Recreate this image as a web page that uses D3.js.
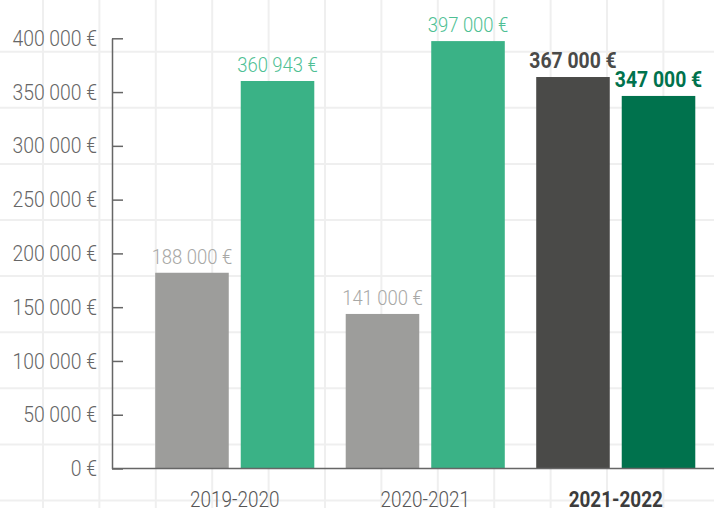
<!DOCTYPE html>
<html>
<head>
<meta charset="utf-8">
<script src="https://cdn.jsdelivr.net/npm/d3@7"></script>
<style>
  html, body { margin: 0; padding: 0; background: #ffffff; }
  svg { display: block; }
  text { font-family: Roboto, "Noto Sans", "DejaVu Sans", sans-serif; }
</style>
</head>
<body>
<div id="chart"></div>
<script>
// ---- data ----
const categories = ["2019-2020", "2020-2021", "2021-2022"];
const series = ["budget", "realise"];
const budgetValues = [182000, 143700, 364000];
const realiseValues = [360300, 397400, 346400];
const budgetLabels = ["188 000 €", "141 000 €", "367 000 €"];
const realiseLabels = ["360 943 €", "397 000 €", "347 000 €"];
const yTicks = [0, 50000, 100000, 150000, 200000, 250000, 300000, 350000, 400000];
const highlightCategory = "2021-2022";

// ---- layout ----
const W = 714, H = 508;
const plotLeft = 112, plotRight = 714, plotTop = 38.3, plotBottom = 468.5;

const svg = d3.select("#chart").append("svg").attr("width", W).attr("height", H);

// background grid
const grid = svg.append("g").attr("stroke", "#efefef").attr("stroke-width", 2);
grid.selectAll("line.v").data(d3.range(43, W, 56.4)).join("line")
  .attr("x1", d => d).attr("x2", d => d).attr("y1", 0).attr("y2", H);
grid.selectAll("line.h").data(d3.range(51.7 - 56.1, H, 56.1)).join("line")
  .attr("x1", 0).attr("x2", W).attr("y1", d => d).attr("y2", d => d);

// scales
const y = d3.scaleLinear().domain([0, 400000]).range([plotBottom, plotTop]);
const x0 = d3.scaleBand().domain(categories).range([139.5, 711]).paddingInner(0.165).paddingOuter(0.0825);
const x1 = d3.scaleBand().domain(series).range([0, x0.bandwidth()]).paddingInner(0.14).paddingOuter(0);

const fmt = v => d3.format(",")(v).replace(/,/g, " ") + " €";

function condense(sx) {
  return sel => sel.each(function () {
    const t = d3.select(this);
    const x = +(t.attr("x") || 0);
    t.attr("x", x / sx).attr("transform", `scale(${sx},1)`);
  });
}

// y axis
const yAxis = d3.axisLeft(y).tickValues(yTicks).tickFormat(fmt)
  .tickSizeInner(-11).tickSizeOuter(0).tickPadding(15);
const gy = svg.append("g").attr("transform", `translate(${plotLeft},0)`).call(yAxis);
gy.attr("font-family", null).attr("font-size", null);
gy.select(".domain").attr("stroke", "#666").attr("stroke-width", 1.5);
gy.selectAll(".tick line").attr("stroke", "#666").attr("stroke-width", 1.5);
gy.selectAll(".tick text").attr("fill", "#666").style("font-size", "22px")
  .style("font-weight", 300).call(condense(0.88));

// colours
const colors = {
  normal: { budget: "#9d9d9b", realise: "#3ab286" },
  highlight: { budget: "#4a4a48", realise: "#00724d" }
};
const labelColors = {
  normal: { budget: "#a8a8a6", realise: "#4fbf94" },
  highlight: { budget: "#4a4a48", realise: "#00724d" }
};

const rows = [];
categories.forEach((c, i) => {
  rows.push({ cat: c, key: "budget", value: budgetValues[i], label: budgetLabels[i] });
  rows.push({ cat: c, key: "realise", value: realiseValues[i], label: realiseLabels[i] });
});
const kind = d => d.cat === highlightCategory ? "highlight" : "normal";

// bars
svg.append("g").selectAll("rect").data(rows).join("rect")
  .attr("x", d => x0(d.cat) + x1(d.key))
  .attr("y", d => y(d.value))
  .attr("width", x1.bandwidth())
  .attr("height", d => y(0) - y(d.value))
  .attr("fill", d => colors[kind(d)][d.key]);

// x axis line
svg.append("line").attr("x1", plotLeft).attr("x2", plotRight)
  .attr("y1", y(0)).attr("y2", y(0)).attr("stroke", "#666").attr("stroke-width", 1.5);

// value labels
svg.append("g").selectAll("text").data(rows).join("text")
  .attr("x", d => x0(d.cat) + x1(d.key) + x1.bandwidth() / 2)
  .attr("y", d => y(d.value) - 9)
  .attr("text-anchor", "middle")
  .style("font-size", d => kind(d) === "highlight" ? "22px" : "21px")
  .style("font-weight", d => kind(d) === "highlight" ? 700 : 300)
  .attr("fill", d => labelColors[kind(d)][d.key])
  .text(d => d.label)
  .call(condense(0.88));

// category labels
svg.append("g").selectAll("text").data(categories).join("text")
  .attr("x", d => x0(d) + x0.bandwidth() / 2)
  .attr("y", 507)
  .attr("text-anchor", "middle")
  .style("font-size", "22px")
  .style("font-weight", d => d === highlightCategory ? 700 : 300)
  .attr("fill", d => d === highlightCategory ? "#3c3c3c" : "#555")
  .text(d => d)
  .call(condense(0.86));
</script>
</body>
</html>
